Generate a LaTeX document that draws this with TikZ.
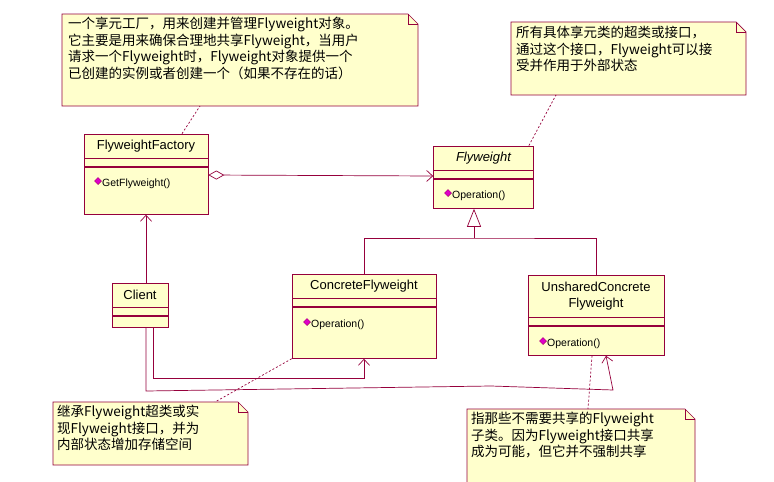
\documentclass[tikz,border=0pt]{standalone}
\usepackage{fontspec}
\setmainfont{Liberation Sans}
\newfontfamily\cjk{Noto Sans CJK SC}
\usetikzlibrary{positioning,arrows.meta}
\definecolor{umlline}{RGB}{150,0,60}
\definecolor{umlfill}{RGB}{255,255,204}
\definecolor{umlicon}{RGB}{220,0,200}
\tikzset{cls/.style={draw=umlline,fill=umlfill,inner sep=1pt,line width=0.7pt,font=\fontsize{13}{16}\selectfont,align=center}}
\tikzset{op/.style={font=\fontsize{10.5}{12}\selectfont,inner sep=0pt,anchor=west}}
\tikzset{icon/.style={fill=umlicon,draw=umlline,line width=0.3pt,minimum size=5pt,inner sep=0pt,rotate=45}}
\tikzset{note/.style={draw=umlline,fill=umlfill,line width=0.7pt}}
\tikzset{notetext/.style={font=\cjk\fontsize{13.5}{16.5}\selectfont,align=left,anchor=north west,inner sep=0pt}}
\tikzset{link/.style={draw=umlline,line width=0.7pt}}
\tikzset{assoc/.style={link,-{Straight Barb[length=6pt,width=11pt]}}}
\tikzset{notelink/.style={link,dash pattern=on 2pt off 2pt}}
\newcommand{\notebox}[4]{% x1,y1,x2,y2
  \draw[note] (#1,#2) -- (#3-10,#2) -- (#3,#2+10) -- (#3,#4) -- (#1,#4) -- cycle;
  \draw[link] (#3-10,#2) -- (#3-10,#2+10) -- (#3,#2+10);}
\begin{document}
\begin{tikzpicture}[x=1pt,y=-1pt]
\useasboundingbox[fill=white] (0,0) rectangle (774,482);

% Notes
\notebox{62}{14}{418}{106}
\node[notetext] (nfac) at (68,17) {一个享元工厂，用来创建并管理Flyweight对象。\\它主要是用来确保合理地共享Flyweight，当用户\\请求一个Flyweight时，Flyweight对象提供一个\\已创建的实例或者创建一个（如果不存在的话）};
\notebox{511}{22}{746}{95}
\node[notetext] (nfly) at (516,26) {所有具体享元类的超类或接口，\\通过这个接口，Flyweight可以接\\受并作用于外部状态};
\notebox{53}{402}{248}{465}
\node[notetext] (ncon) at (57,405) {继承Flyweight超类或实\\现Flyweight接口，并为\\内部状态增加存储空间};
\notebox{467}{409}{695}{490}
\node[notetext] (nuns) at (471,412) {指那些不需要共享的Flyweight\\子类。因为Flyweight接口共享\\成为可能，但它并不强制共享};
\coordinate (nfacb) at (200,106);
\coordinate (nflyb) at (556,95);
\coordinate (nconb) at (215,402);
\coordinate (nunsb) at (588,409);

% Classes
\node[cls,minimum width=124pt,minimum height=24pt] (fac) at (146,146) {FlyweightFactory};
\node[cls,minimum width=124pt,minimum height=8pt,below=0pt of fac] (fac-a) {};
\node[cls,minimum width=124pt,minimum height=47pt,below=0pt of fac-a] (fac-o) {};
\node[op] (fac-op) at (102,184) {GetFlyweight()};
\node[icon] at (98,181) {};

\node[cls,minimum width=100pt,minimum height=24pt,font=\fontsize{13}{16}\selectfont\itshape] (fly) at (483.5,158) {Flyweight};
\node[cls,minimum width=100pt,minimum height=8pt,below=0pt of fly] (fly-a) {};
\node[cls,minimum width=100pt,minimum height=29pt,below=0pt of fly-a] (fly-o) {};
\node[op] (fly-op) at (452,196) {Operation()};
\node[icon] at (448,193) {};

\node[cls,minimum width=56pt,minimum height=24pt] (cli) at (140,295) {Client};
\node[cls,minimum width=56pt,minimum height=8pt,below=0pt of cli] (cli-a) {};
\node[cls,minimum width=56pt,minimum height=11pt,below=0pt of cli-a] (cli-o) {};

\node[cls,minimum width=144pt,minimum height=24pt] (con) at (364,286) {ConcreteFlyweight};
\node[cls,minimum width=144pt,minimum height=8pt,below=0pt of con] (con-a) {};
\node[cls,minimum width=144pt,minimum height=51pt,below=0pt of con-a] (con-o) {};
\node[op] (con-op) at (311,325) {Operation()};
\node[icon] at (307,322) {};

\node[cls,minimum width=136pt,minimum height=42pt] (uns) at (596,296) {UnsharedConcrete\\Flyweight};
\node[cls,minimum width=136pt,minimum height=8pt,below=0pt of uns] (uns-a) {};
\node[cls,minimum width=136pt,minimum height=29pt,below=0pt of uns-a] (uns-o) {};
\node[op] (uns-op) at (547,344) {Operation()};
\node[icon] at (543,341) {};

% Connectors
\draw[link,{Diamond[open,length=16pt,width=9pt]}-{Straight Barb[length=6pt,width=11pt]}] (fac-o.north east |- 0,175) -- (fly-o.north west |- 0,176);
\draw[assoc] (cli.north -| 146,0) -- (fac-o.south -| 146,0);
\coordinate (junc) at (474,238);
\draw[link] (con.north) |- (junc) -| (uns.north);
\draw[link,-{Triangle[open,length=18pt,width=14pt]}] (junc) -- (fly-o.south -| junc);
\draw[assoc] (cli-o.south -| 153,0) |- (364,378) -- (con-o.south);
\draw[assoc] (cli-o.south -| 146,0) -- (146,391) -- (491,386) -- (613,390) -- (uns-o.south -| 606,0);
\draw[notelink] (fac.north -| 182,0) -- (nfacb);
\draw[notelink] (fly.north east) ++(-5,0) -- (nflyb);
\draw[notelink] (con-o.south west) -- (nconb);
\draw[notelink] (uns-o.south -| 592,0) -- (nunsb);
\end{tikzpicture}
\end{document}
